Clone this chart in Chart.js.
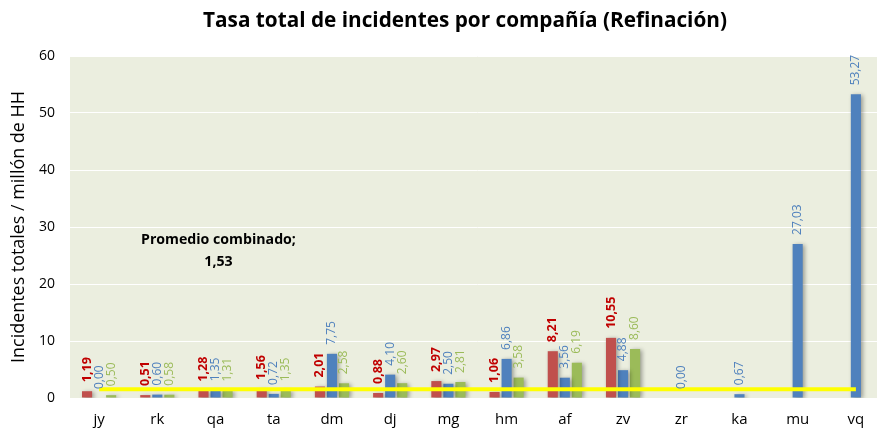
<!DOCTYPE html>
<html><head><meta charset="utf-8">
<script src="https://cdn.jsdelivr.net/npm/chart.js@4.4.0/dist/chart.umd.min.js"></script>
<style>html,body{margin:0;padding:0;background:#fff;overflow:hidden}#w{width:885px;height:431px;position:relative}</style>
</head><body><div id="w"><canvas id="c"></canvas></div>
<script>
const categories = ['jy','rk','qa','ta','dm','dj','mg','hm','af','zv','zr','ka','mu','vq'];
const redValues   = [1.19,0.51,1.28,1.56,2.01,0.88,2.97,1.06,8.21,10.55,null,null,null,null];
const blueValues  = [0.00,0.60,1.35,0.72,7.75,4.10,2.50,6.86,3.56,4.88,0.00,0.67,27.03,53.27];
const greenValues = [0.50,0.58,1.31,1.35,2.58,2.60,2.81,3.58,6.19,8.60,null,null,null,null];
const averageValue = 1.53;
const averageLine = categories.map(() => averageValue);
const yTicks = [0,10,20,30,40,50,60];
const titleText = 'Tasa total de incidentes por compañía (Refinación)';
const yTitle = 'Incidentes totales / millón de HH';
const avgLabel = ['Promedio combinado;', '1,53'];

const FONT = '"Open Sans", "Noto Sans", sans-serif';
const fmt = v => v.toFixed(2).replace('.', ',');

// fit a font size so the text reaches a target width
const mctx = document.createElement('canvas').getContext('2d');
function fitSize(text, weight, target) {
  mctx.font = weight + ' 100px ' + FONT;
  return 100 * target / mctx.measureText(text).width;
}
const titleSize = fitSize(titleText, 'bold', 524);
const yTitleSize = fitSize(yTitle, 'normal', 272);
const avgSize = fitSize(avgLabel[0], 'bold', 155);

const shadowPlugin = {
  id: 'shadow',
  beforeDatasetDraw(chart, args) {
    const ds = chart.data.datasets[args.index];
    if (ds.type === 'line') return;
    const ctx = chart.ctx; ctx.save();
    ctx.shadowColor = 'rgba(0,0,0,0.35)'; ctx.shadowBlur = 4; ctx.shadowOffsetX = 2; ctx.shadowOffsetY = 1;
  },
  afterDatasetDraw(chart, args) {
    const ds = chart.data.datasets[args.index];
    if (ds.type === 'line') return;
    chart.ctx.restore();
  }
};

const labelPlugin = {
  id: 'labels',
  afterDatasetsDraw(chart) {
    const ctx = chart.ctx;
    chart.data.datasets.forEach((ds, i) => {
      if (!ds.labelColor) return;
      const meta = chart.getDatasetMeta(i);
      meta.data.forEach((el, j) => {
        const v = ds.data[j];
        if (v === null || v === undefined) return;
        ctx.save();
        ctx.translate(el.x, el.y - 9);
        ctx.rotate(-Math.PI / 2);
        ctx.font = (ds.labelBold ? 'bold 12.5px ' : '12px ') + FONT;
        ctx.fillStyle = ds.labelColor;
        ctx.textAlign = 'left'; ctx.textBaseline = 'middle';
        ctx.fillText(fmt(v), 0, 0);
        ctx.restore();
      });
    });
  }
};

const textPlugin = {
  id: 'texts',
  afterDraw(chart) {
    const ctx = chart.ctx;
    ctx.save();
    ctx.fillStyle = '#000';
    ctx.font = 'bold ' + titleSize + 'px ' + FONT;
    ctx.textAlign = 'center'; ctx.textBaseline = 'middle';
    ctx.fillText(titleText, 465, 21);
    const x = chart.scales.x.getPixelForValue(2.05);
    const y = chart.scales.y.getPixelForValue(27.7);
    ctx.font = 'bold ' + avgSize + 'px ' + FONT;
    ctx.fillText(avgLabel[0], x, y);
    ctx.fillText(avgLabel[1], x, y + 22);
    ctx.restore();
  }
};

const plotBg = {
  id: 'plotBg',
  beforeDraw(chart) {
    const a = chart.chartArea, ctx = chart.ctx;
    ctx.save(); ctx.fillStyle = '#EBEEDF';
    ctx.fillRect(a.left, a.top, a.right - a.left, a.bottom - a.top);
    ctx.restore();
  }
};

new Chart(document.getElementById('c'), {
  data: {
    labels: categories,
    datasets: [
      { type: 'line', data: averageLine, borderColor: '#FFFF00', borderWidth: 4, pointRadius: 0, order: 0 },
      { type: 'bar', data: redValues, backgroundColor: '#C0504D', labelColor: '#C00000', labelBold: true, order: 1 },
      { type: 'bar', data: blueValues, backgroundColor: '#4F81BD', labelColor: '#4F81BD', order: 1 },
      { type: 'bar', data: greenValues, backgroundColor: '#9BBB59', labelColor: '#9BBB59', order: 1 }
    ]
  },
  options: {
    responsive: true, maintainAspectRatio: false, animation: false,
    layout: { padding: { top: 56, right: 0, left: 0, bottom: 0 } },
    datasets: { bar: { categoryPercentage: 0.62, barPercentage: 0.84, skipNull: false } },
    plugins: { legend: { display: false }, tooltip: { enabled: false } },
    scales: {
      x: {
        grid: { display: false }, border: { display: false },
        ticks: { color: '#000', font: { family: FONT, size: 15 }, padding: 5 },
        afterFit(s) { s.height = 33; }
      },
      y: {
        min: 0, max: 60,
        afterBuildTicks(s) { s.ticks = yTicks.map(v => ({ value: v })); },
        grid: { color: '#FFFFFF', lineWidth: 1, drawTicks: false }, border: { display: false },
        ticks: { color: '#000', font: { family: FONT, size: 14 }, padding: 15 },
        title: { display: true, text: yTitle, color: '#000', font: { family: FONT, size: yTitleSize }, padding: { top: 8, bottom: 0 } },
        afterFit(s) { s.width = 70; }
      }
    }
  },
  plugins: [plotBg, shadowPlugin, labelPlugin, textPlugin]
});
</script></body></html>
